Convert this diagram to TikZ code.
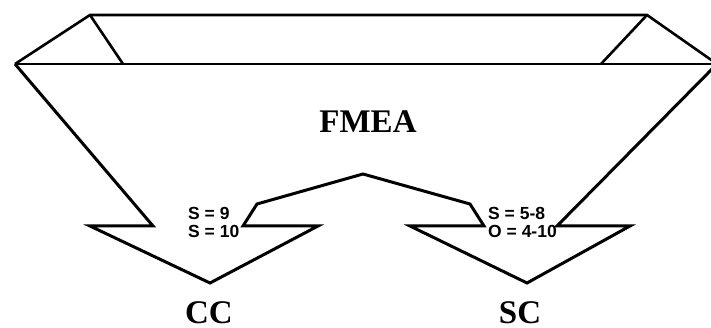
\documentclass[tikz,border=0pt]{standalone}
\usepackage{fontspec}
\setmainfont{Liberation Serif}
\setsansfont{Liberation Sans}
\usetikzlibrary{positioning}

\tikzset{
	outline/.style={line width=3pt},
	rimline/.style={line width=2.6pt},
	thinline/.style={line width=1.8pt},
	bigtext/.style={font=\bfseries\fontsize{33}{36}\selectfont, inner sep=0pt},
	ruletext/.style={font=\sffamily\bfseries\fontsize{17.5}{18}\selectfont, align=left, inner sep=0pt}
}

\begin{document}
\begin{tikzpicture}[x=1pt,y=-1pt]
	\useasboundingbox (0,0) rectangle (711,328);
	\clip (0,0) rectangle (711,328);
	% rim of the funnel
	\coordinate (lp) at (15,64);
	\coordinate (rp) at (717,64);
	\coordinate (tl) at (90,15);
	\coordinate (tr) at (647,15);
	\coordinate (il) at (123,64);
	\coordinate (ir) at (601,64);
	% left outlet (CC)
	\coordinate (ccin) at (153,226);
	\coordinate (ccl) at (90,226);
	\coordinate (tipcc) at (210,283);
	\coordinate (ccr) at (318,226);
	\coordinate (ccneck) at (243,226);
	\coordinate (ccsh) at (257,204);
	% middle peak
	\coordinate (peak) at (363,174);
	% right outlet (SC)
	\coordinate (scsh) at (470,204);
	\coordinate (scneck) at (484,226);
	\coordinate (scl) at (410,226);
	\coordinate (tipsc) at (527,283);
	\coordinate (scr) at (630,226);
	\coordinate (scin) at (557,226);

	\draw[rimline] (lp) -- (tl) -- (tr) -- (rp);
	\draw[rimline] (tl) -- (il);
	\draw[rimline] (tr) -- (ir);
	\draw[thinline] (lp) -- (rp);
	\draw[outline] (lp) -- (ccin) -- (ccl) -- (tipcc) -- (ccr) -- (ccneck) -- (ccsh)
		-- (peak) -- (scsh) -- (scneck) -- (scl) -- (tipsc) -- (scr) -- (scin) -- (rp);

	\node [bigtext, anchor=base] (fmea) at (368,133) {FMEA};
	\node [ruletext, anchor=north west] (ccrule) at (188,207) {S = 9\\S = 10};
	\node [ruletext, anchor=north west] (scrule) at (488,207) {S = 5-8\\O = 4-10};
	\node [bigtext, anchor=base] (cc) at (209,323) {CC};
	\node [bigtext, anchor=base] (sc) at (520,323) {SC};
\end{tikzpicture}
\end{document}
